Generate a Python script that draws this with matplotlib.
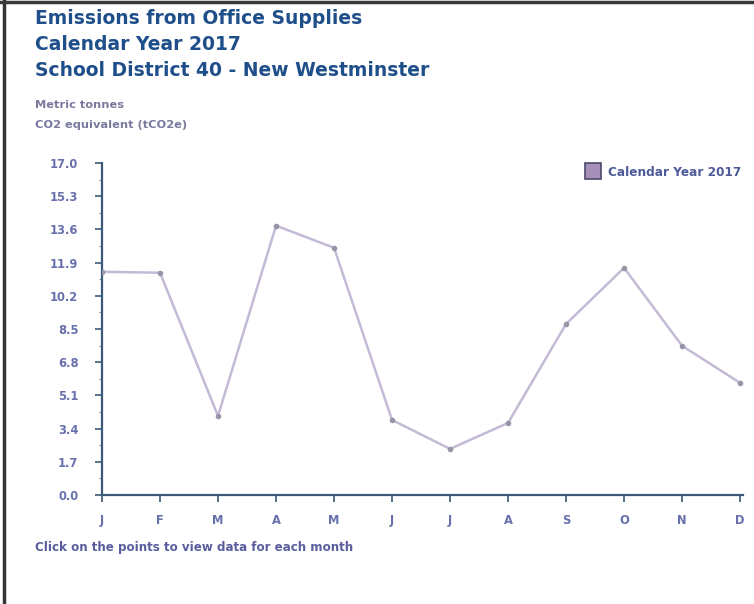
import numpy as np
import matplotlib
matplotlib.use("Agg")
import matplotlib.pyplot as plt
from matplotlib.lines import Line2D
from matplotlib.ticker import FixedLocator, MultipleLocator

# dados
meses = ['J', 'F', 'M', 'A', 'M', 'J', 'J', 'A', 'S', 'O', 'N', 'D']
emissoes_2017 = [11.43, 11.38, 4.05, 13.79, 12.66, 3.84, 2.36, 3.69, 8.76, 11.63, 7.64, 5.74]
ticks_y = [0.0, 1.7, 3.4, 5.1, 6.8, 8.5, 10.2, 11.9, 13.6, 15.3, 17.0]
titulo = ['Emissions from Office Supplies', 'Calendar Year 2017',
          'School District 40 - New Westminster']
nome_serie = 'Calendar Year 2017'

W, H = 754, 604
fig = plt.figure(figsize=(W / 100, H / 100), dpi=100)

# eixo: J em x=102, D em x=743, 0 em y=495, 17 em y=163
ax = fig.add_axes([102 / W, 1 - 495 / H, (743 - 102) / W, (495 - 163) / H])

x = np.arange(len(meses))
ax.plot(x, emissoes_2017, color='#c5bad6', lw=1.8, zorder=3)
ax.plot(x, emissoes_2017, ls='none', marker='o', ms=3, color='#9a94a8', zorder=4)
# linha de base (ano anterior) em ciano
ax.plot([0, 11.05], [0, 0], color='#5fc4d6', lw=1.0, zorder=2)

ax.set_xlim(0, 11.05)
ax.set_ylim(0, 17)
ax.set_xticks(x)
ax.set_xticklabels(meses)
ax.yaxis.set_major_locator(FixedLocator(ticks_y))
ax.set_yticklabels([f'{t:.1f}' for t in ticks_y])
ax.yaxis.set_minor_locator(MultipleLocator(0.85))

for s in ['top', 'right']:
    ax.spines[s].set_visible(False)
for s in ['left', 'bottom']:
    ax.spines[s].set_color('#3c5a78')
    ax.spines[s].set_linewidth(1.6)

ax.tick_params(axis='both', which='major', direction='out', length=5, width=1.2,
               color='#3c5a78', labelcolor='#6870ad', labelsize=8.3)
ax.tick_params(axis='x', pad=9)
ax.tick_params(axis='y', pad=12)
ax.tick_params(axis='y', which='minor', direction='out', length=2, width=0.8, color='#7a8aa0')
for lab in ax.get_xticklabels() + ax.get_yticklabels():
    lab.set_fontweight('bold')

# títulos
cor_titulo = '#1f4f8a'
for i, linha in enumerate(titulo):
    fig.text(35 / W, 1 - (18 + 26.5 * i) / H, linha, fontsize=13.5, fontweight='bold',
             color=cor_titulo, va='center', ha='left')

fig.text(35 / W, 1 - 105 / H, 'Metric tonnes', fontsize=8.2, fontweight='bold',
         color='#7a7a9e', va='center')
fig.text(35 / W, 1 - 125 / H, 'CO2 equivalent (tCO2e)', fontsize=8.2, fontweight='bold',
         color='#7a7a9e', va='center')
fig.text(35 / W, 1 - 548 / H, 'Click on the points to view data for each month',
         fontsize=8.6, fontweight='bold', color='#5a5e9e', va='center')

# legenda
leg = ax.legend([Line2D([], [], ls='none', marker='s', ms=11, markerfacecolor='#a68fb8',
                        markeredgecolor='#4a4a6a', markeredgewidth=1.2)],
                [nome_serie], loc='upper right', bbox_to_anchor=(1.015, 1.025),
                frameon=False, handletextpad=0.25, prop={'size': 8.7, 'weight': 'bold'})
for t in leg.get_texts():
    t.set_color('#4d5b9a')

# bordas escuras da digitalização
fig.add_artist(Line2D([3.5 / W, 3.5 / W], [0, 1], color='#333333', lw=2.5))
fig.add_artist(Line2D([0, 1], [1 - 1.5 / H, 1 - 1.5 / H], color='#3a3a3a', lw=2.5))

fig.savefig('out.png', dpi=100, facecolor='white')
